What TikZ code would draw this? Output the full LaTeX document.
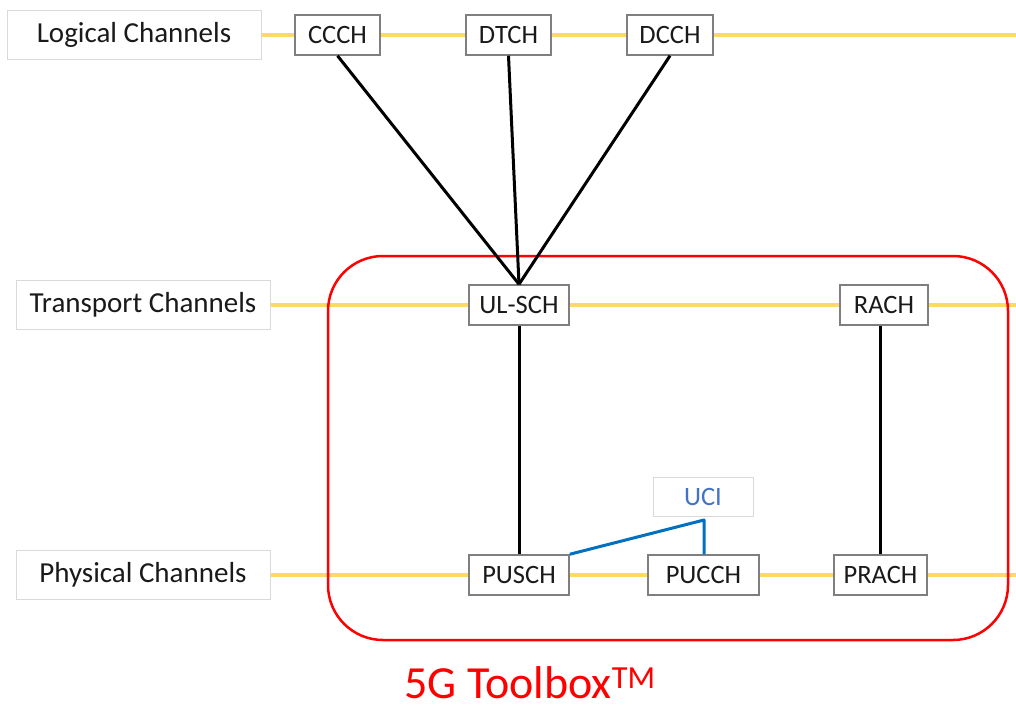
\documentclass[tikz,border=0pt]{standalone}
\usepackage{fontspec}
\setmainfont{Carlito}
\usetikzlibrary{backgrounds}
\definecolor{yel}{HTML}{FFD966}
\definecolor{bluel}{HTML}{0070C0}
\definecolor{bluet}{HTML}{4472C4}
\definecolor{boxgray}{HTML}{7F7F7F}
\definecolor{lblgray}{HTML}{D9D9D9}
\definecolor{txt}{HTML}{1A1A1A}
\begin{document}
\begin{tikzpicture}[x=1pt,y=-1pt,
  chbox/.style={draw=boxgray,line width=1.5pt,fill=white,inner sep=0pt,minimum height=40pt,font=\fontsize{26.5}{30}\selectfont,text=txt},
  lblbox/.style={draw=lblgray,line width=1pt,fill=white,inner sep=0pt,minimum width=254pt,minimum height=49pt,font=\fontsize{29}{33}\selectfont,text=txt},
  layerline/.style={draw=yel,line width=3.5pt},
  link/.style={draw=black,line width=3pt},
  ucilink/.style={draw=bluel,line width=3pt}]
\useasboundingbox (0,0) rectangle (1016,711);
% labels
\node[lblbox] (logical) at (134,35) {Logical Channels};
\node[lblbox] (transport) at (143,305) {Transport Channels};
\node[lblbox] (physical) at (143,575) {Physical Channels};
% logical channels
\node[chbox,minimum width=85pt] (ccch) at (337.5,35) {CCCH};
\node[chbox,minimum width=85pt] (dtch) at (508.5,35) {DTCH};
\node[chbox,minimum width=86pt] (dcch) at (670,35) {DCCH};
% transport
\node[chbox,minimum width=100pt] (ulsch) at (519,305) {UL-SCH};
\node[chbox,minimum width=88pt] (rach) at (884,305) {RACH};
% physical
\node[chbox,minimum width=100pt] (pusch) at (519,575) {PUSCH};
\node[chbox,minimum width=111pt] (pucch) at (703.5,575) {PUCCH};
\node[chbox,minimum width=93pt] (prach) at (880.5,575) {PRACH};
% UCI
\node[draw=lblgray,line width=1pt,fill=white,inner sep=0pt,minimum width=100pt,minimum height=39pt,font=\fontsize{26.5}{30}\selectfont,text=bluet] (uci) at (703,496.5) {UCI};
\coordinate (ucijoint) at (704,520);
\coordinate (rightedge) at (1016,0);
% frame
\node[draw=red,line width=2.5pt,rounded corners=55pt,minimum width=680pt,minimum height=384pt,inner sep=0pt] (toolbox) at (668,448) {};
\node[text=red,font=\fontsize{46}{52}\selectfont,anchor=base,inner sep=0pt] (title) at (530,698) {5G Toolbox\textsuperscript{TM}};
\begin{scope}[on background layer]
\draw[layerline] (logical.east) -- (logical.east -| rightedge);
\draw[layerline] (transport.east) -- (transport.east -| rightedge);
\draw[layerline] (physical.east) -- (physical.east -| rightedge);
\end{scope}
% connectors
\draw[link] (ccch.south) -- (ulsch.north);
\draw[link] (dtch.south) -- (ulsch.north);
\draw[link] (dcch.south) -- (ulsch.north);
\draw[link] (ulsch.south) -- (pusch.north);
\draw[link] (prach.north |- rach.south) -- (prach.north);
\draw[ucilink,line join=round] (pusch.north east) -- (ucijoint) -- (ucijoint |- pucch.north);
\end{tikzpicture}
\end{document}
